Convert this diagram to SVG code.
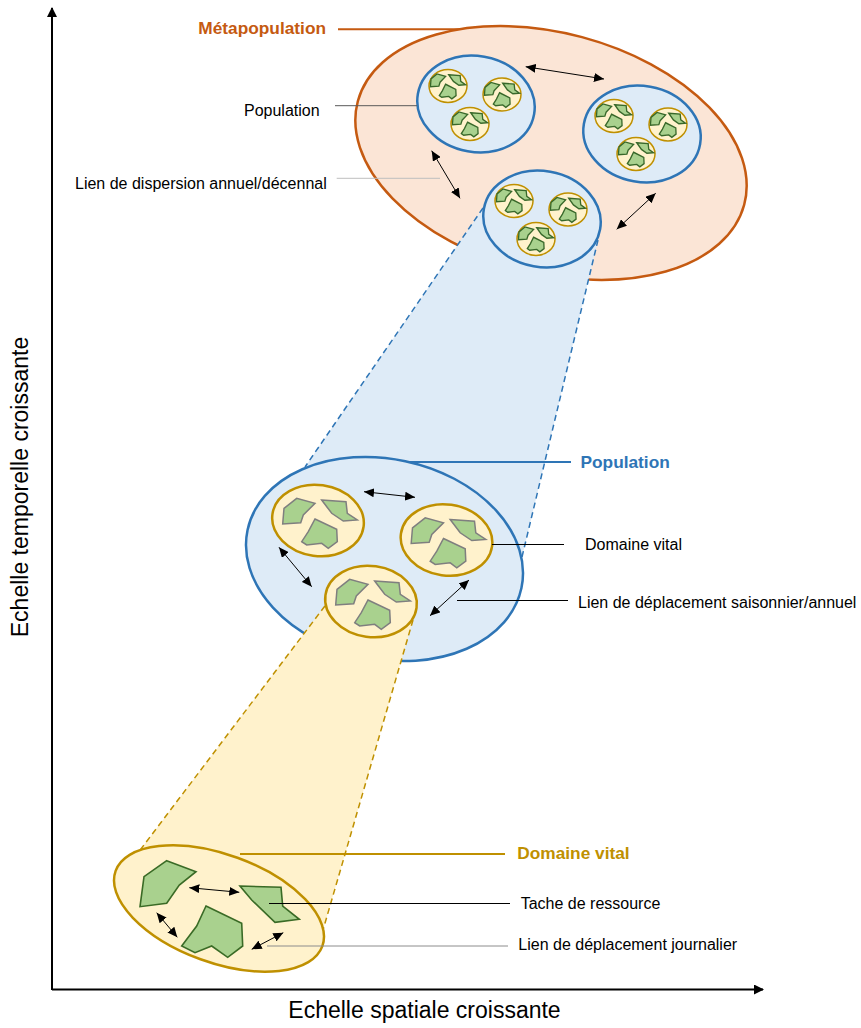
<svg xmlns="http://www.w3.org/2000/svg" xmlns:xlink="http://www.w3.org/1999/xlink" width="861" height="1028" viewBox="0 0 861 1028">
<style>
text{font-family:"Liberation Sans",Arial,sans-serif;}
.lbl{font-size:16px;fill:#000;}
.ttl{font-size:17.3px;font-weight:bold;}
.ax{font-size:23px;fill:#000;}
.meta{fill:#fbe5d6;stroke:#c55a11;stroke-width:2.5;}
.pop{fill:#deebf7;stroke:#2e75b6;stroke-width:2.5;}
.dv{fill:#fff2cc;stroke:#bf9000;stroke-width:2.5;}
.dvs{fill:#fff2cc;stroke:#bf9000;stroke-width:1.5;}
.patch polygon{fill:#a9d18e;}
.pm{stroke:#7f7f7f;stroke-width:1.5;}
.ps{stroke:#38682a;stroke-width:2.8;}
.pb{fill:#a9d18e;stroke:#3a6b26;stroke-width:1.6;}
.dbl{stroke:#000;stroke-width:1;fill:none;marker-start:url(#ah);marker-end:url(#ah);}
.lead{fill:none;stroke-width:1;}
</style>
<defs>
<marker id="ah" markerUnits="userSpaceOnUse" markerWidth="10" markerHeight="9" viewBox="0 0 10 9" refX="10" refY="4.5" orient="auto-start-reverse">
<path d="M0,0 L10,4.5 L0,9 z" fill="#000"/>
</marker>
<marker id="axh" markerUnits="userSpaceOnUse" markerWidth="10" markerHeight="10" viewBox="0 0 10 10" refX="9" refY="5" orient="auto">
<path d="M0,0 L10,5 L0,10 z" fill="#000"/>
</marker>
<g id="patches" class="patch">
<polygon points="-34,-12.2 -21.3,-22.2 -3,-17.2 -14.7,-5.5 -17.3,2.2 -35.3,3.5"/>
<polygon points="3.7,-20.5 28,-18.8 29.3,-7.2 39.3,-0.5 25.3,0.5 13.7,-7.2"/>
<polygon points="-3,-1.5 18.7,8.8 19.3,21.2 10.3,27.8 3.7,22.8 -11.3,24.5 -16.3,21.2 -9.7,11.2"/>
</g>
<g id="sdv">
<ellipse class="dvs" cx="0" cy="0" rx="19" ry="16.5"/>
<use xlink:href="#patches" class="ps" transform="translate(-1,-1) scale(0.47,0.5)"/>
</g>
</defs>

<g id="axes">
<line x1="52" y1="990" x2="52" y2="8" stroke="#000" stroke-width="2" marker-end="url(#axh)"/>
<line x1="52" y1="989.5" x2="763" y2="989.5" stroke="#000" stroke-width="2" marker-end="url(#axh)"/>
<text class="ax" transform="translate(28,487) rotate(-90)" text-anchor="middle">Echelle temporelle croissante</text>
<text class="ax" x="424.5" y="1018" text-anchor="middle">Echelle spatiale croissante</text>
</g>

<g id="metapopulation">
<line x1="338" y1="29.3" x2="505" y2="29.3" stroke="#c55a11" stroke-width="2"/>
<ellipse class="meta" cx="551" cy="153" rx="200" ry="120" transform="rotate(15 551 153)"/>
<text class="ttl" x="326" y="34" text-anchor="end" fill="#c55a11">Métapopulation</text>
</g>

<g id="cone-population">
<polygon points="483,208 598,240 522,557 305,467" fill="#deebf7"/>
<line x1="483" y1="208" x2="305" y2="467" stroke="#2e75b6" stroke-width="1.5" stroke-dasharray="6,4"/>
<line x1="598" y1="240" x2="522" y2="557" stroke="#2e75b6" stroke-width="1.5" stroke-dasharray="6,4"/>
</g>

<g id="population-1">
<ellipse class="pop" cx="476" cy="104" rx="59" ry="48" transform="rotate(10 476 104)"/>
<use xlink:href="#sdv" transform="translate(448,86)"/>
<use xlink:href="#sdv" transform="translate(502,94.5)"/>
<use xlink:href="#sdv" transform="translate(470,124)"/>
</g>
<g id="population-2">
<ellipse class="pop" cx="642" cy="134" rx="59" ry="48" transform="rotate(10 642 134)"/>
<use xlink:href="#sdv" transform="translate(614,116)"/>
<use xlink:href="#sdv" transform="translate(668,124.5)"/>
<use xlink:href="#sdv" transform="translate(636,154)"/>
</g>
<g id="population-3">
<ellipse class="pop" cx="542" cy="219" rx="59" ry="48" transform="rotate(10 542 219)"/>
<use xlink:href="#sdv" transform="translate(514,201)"/>
<use xlink:href="#sdv" transform="translate(568,209.5)"/>
<use xlink:href="#sdv" transform="translate(536,239)"/>
</g>

<g id="population-main">
<ellipse class="pop" cx="384.5" cy="559" rx="140" ry="100" transform="rotate(12 384.5 559)"/>
</g>

<g id="cone-domaine">
<polygon points="337,590 413,620 323,930 125,870" fill="#fff2cc"/>
<line x1="337" y1="590" x2="125" y2="870" stroke="#bf9000" stroke-width="1.5" stroke-dasharray="6,4"/>
<line x1="413" y1="620" x2="323" y2="930" stroke="#bf9000" stroke-width="1.5" stroke-dasharray="6,4"/>
</g>

<g id="domaine-1">
<ellipse class="dv" cx="318" cy="520.5" rx="46" ry="35.5" transform="rotate(8 318 520.5)"/>
<use xlink:href="#patches" class="pm" transform="translate(318,520.5)"/>
</g>
<g id="domaine-2">
<ellipse class="dv" cx="446.5" cy="540" rx="46" ry="35.5" transform="rotate(8 446.5 540)"/>
<use xlink:href="#patches" class="pm" transform="translate(446.5,540)"/>
</g>
<g id="domaine-3">
<ellipse class="dv" cx="371" cy="601.5" rx="46" ry="35.5" transform="rotate(8 371 601.5)"/>
<use xlink:href="#patches" class="pm" transform="translate(371,601.5)"/>
</g>

<g id="domaine-vital-main">
<ellipse class="dv" cx="219" cy="908.5" rx="110" ry="54" transform="rotate(20 219 908.5)"/>
<polygon class="pb" points="166.7,860.7 196,871.7 179.3,885 166.7,903.3 140,906.7 144,876.7"/>
<polygon class="pb" points="240,886 281,887.3 282.7,906 299.3,919.3 275,922.3 251.7,900"/>
<polygon class="pb" points="206,906 241.7,923.3 242.7,946 227.7,957.3 211.7,946 195,952.7 181.7,946 196.7,926"/>
</g>

<g id="connectors">
<line class="dbl" x1="525.7" y1="66.7" x2="604" y2="79"/>
<line class="dbl" x1="431.7" y1="150.7" x2="460" y2="198.3"/>
<line class="dbl" x1="616.7" y1="229.3" x2="655.7" y2="193.3"/>
<line class="dbl" x1="364" y1="491.7" x2="415" y2="497.3"/>
<line class="dbl" x1="279" y1="547.3" x2="311.7" y2="586.7"/>
<line class="dbl" x1="430" y1="615.7" x2="469" y2="580"/>
<line class="dbl" x1="189.3" y1="887.7" x2="239.3" y2="892.3"/>
<line class="dbl" x1="156.7" y1="912.7" x2="177.3" y2="937.3"/>
<line class="dbl" x1="251.7" y1="949.3" x2="283.3" y2="932.7"/>
<line class="lead" x1="335" y1="105.7" x2="417" y2="105.7" stroke="#595959"/>
<line class="lead" x1="336.7" y1="178.3" x2="440" y2="178.3" stroke="#bfbfbf"/>
<line x1="408" y1="462" x2="571" y2="462" stroke="#2e75b6" stroke-width="2"/>
<line class="lead" x1="492" y1="544.5" x2="564" y2="544.5" stroke="#000"/>
<line class="lead" x1="457" y1="600.5" x2="568" y2="600.5" stroke="#000"/>
<line x1="240" y1="854" x2="505" y2="854" stroke="#bf9000" stroke-width="2"/>
<line class="lead" x1="269" y1="903.5" x2="510" y2="903.5" stroke="#000"/>
<line class="lead" x1="267" y1="946" x2="508" y2="946" stroke="#8c8c8c"/>
</g>

<g id="labels">
<text class="lbl" x="244" y="115.5">Population</text>
<text class="lbl" x="75" y="188.5">Lien de dispersion annuel/décennal</text>
<text class="ttl" x="580.5" y="467.8" fill="#2e75b6">Population</text>
<text class="lbl" x="585" y="550">Domaine vital</text>
<text class="lbl" x="578" y="608.3">Lien de déplacement saisonnier/annuel</text>
<text class="ttl" x="517.3" y="858.5" fill="#bf9000">Domaine vital</text>
<text class="lbl" x="520.7" y="909">Tache de ressource</text>
<text class="lbl" x="518.3" y="950">Lien de déplacement journalier</text>
</g>
</svg>
